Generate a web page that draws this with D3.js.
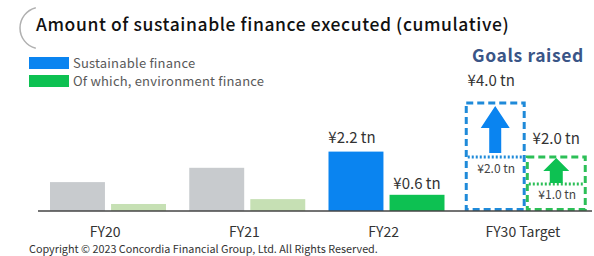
<!DOCTYPE html>
<html>
<head>
<meta charset="utf-8">
<script src="https://cdn.jsdelivr.net/npm/d3@7"></script>
<style>
  body { margin: 0; background: #fff; }
  text { font-family: "Noto Sans CJK JP", "Noto Sans", sans-serif; }
</style>
</head>
<body>
<div id="chart"></div>
<script>
// data
const categories = ["FY20", "FY21", "FY22", "FY30 Target"];
const sustainable = [1.07, 1.6, 2.2, 4.0];
const environment = [0.26, 0.44, 0.6, 2.0];
const previousGoals = [2.0, 1.0]; // FY30 goals before raising (sustainable, environment)
const seriesNames = ["Sustainable finance", "Of which, environment finance"];

const width = 594, height = 256;
const baseY = 211;

const svg = d3.select("#chart")
    .append("svg")
    .attr("width", width)
    .attr("height", height);

// title with the little arc
svg.append("path")
    .attr("d", () => {
        const p = d3.path();
        p.arc(41, 28, 21, -Math.PI / 2 - 0.25, Math.PI / 2 + 0.25, true);
        return p.toString();
    })
    .attr("fill", "none")
    .attr("stroke", "#b0b0b0")
    .attr("stroke-width", 1.5);
svg.append("text")
    .attr("x", 36).attr("y", 31)
    .attr("font-size", 17.5).attr("font-weight", 500)
    .attr("letter-spacing", 0.6)
    .attr("fill", "#111")
    .text("Amount of sustainable finance executed (cumulative)");

// scales
const x = d3.scaleBand().domain(categories).range([38.5, 595.5]);
const sub = d3.scaleBand().domain([0, 1]).range([11.5, 127.5]).paddingInner(0.1);
const y = d3.scaleLinear().domain([0, 4]).range([baseY, 103]);

const colBlue = "#0a84f0", colGreen = "#0dc152";
const colGray = "#c8cbce", colLightGreen = "#c6e0b4";
const boxBlue = "#1f8ad9", boxGreen = "#2cbf57";

// legend
const legend = svg.append("g");
[colBlue, colGreen].forEach((c, i) => {
    legend.append("rect").attr("x", 29).attr("y", 57 + i * 18).attr("width", 40).attr("height", 12).attr("fill", c);
    legend.append("text").attr("x", 73).attr("y", 68 + i * 17.5)
        .attr("font-size", 13).attr("letter-spacing", 0.2).attr("fill", "#595959").text(seriesNames[i]);
});

// "Goals raised"
svg.append("text")
    .attr("x", 528).attr("y", 62)
    .attr("text-anchor", "middle")
    .attr("font-size", 17.5).attr("font-weight", 700)
    .attr("letter-spacing", 0.6)
    .attr("fill", "#3a5587")
    .text("Goals raised");

// actual bars (FY20 - FY22)
const actual = categories.slice(0, 3).map((c, i) => ({c, i}));
actual.forEach(d => {
    const past = d.i < 2;
    svg.append("rect")
        .attr("x", x(d.c) + sub(0)).attr("width", sub.bandwidth())
        .attr("y", y(sustainable[d.i])).attr("height", baseY - y(sustainable[d.i]))
        .attr("fill", past ? colGray : colBlue);
    svg.append("rect")
        .attr("x", x(d.c) + sub(1)).attr("width", sub.bandwidth())
        .attr("y", y(environment[d.i])).attr("height", baseY - y(environment[d.i]))
        .attr("fill", past ? colLightGreen : colGreen);
});

// FY22 value labels
const fy = categories[2];
svg.append("text").attr("x", x(fy) + sub(0) + sub.bandwidth() / 2 - 4).attr("y", y(sustainable[2]) - 9)
    .attr("text-anchor", "middle").attr("font-size", 15).attr("fill", "#333").text(`¥${sustainable[2].toFixed(1)} tn`);
svg.append("text").attr("x", x(fy) + sub(1) + sub.bandwidth() / 2).attr("y", y(environment[2]) - 6)
    .attr("text-anchor", "middle").attr("font-size", 15).attr("fill", "#333").text(`¥${environment[2].toFixed(1)} tn`);

// FY30 target boxes
const t = categories[3];
const targets = [
    {v: sustainable[3], prev: previousGoals[0], col: boxBlue, arrow: colBlue, xi: 0,
        head: 22, hw: 14.5, sw: 6, top: 3, bot: 4, lab: -17, dx: -4, plab: 16},
    {v: environment[3], prev: previousGoals[1], col: boxGreen, arrow: colGreen, xi: 1,
        head: 13, hw: 13, sw: 6.5, top: 1, bot: 1, lab: -13, dx: 0, plab: 15}
];
targets.forEach(d => {
    const x0 = x(t) + sub(d.xi) - 1.5, w = sub.bandwidth() + 3;
    const cx = x0 + w / 2;
    svg.append("rect")
        .attr("x", x0).attr("y", y(d.v)).attr("width", w).attr("height", baseY - y(d.v) - 1.5)
        .attr("fill", "none").attr("stroke", d.col).attr("stroke-width", 3)
        .attr("stroke-dasharray", "7,4");
    svg.append("line")
        .attr("x1", x0 + 1.5).attr("x2", x0 + w - 1.5)
        .attr("y1", y(d.prev)).attr("y2", y(d.prev))
        .attr("stroke", d.col).attr("stroke-width", 3).attr("stroke-dasharray", "2,2");
    // arrow
    const top = y(d.v) + d.top, bot = y(d.prev) - d.bot;
    svg.append("path")
        .attr("d", `M${cx},${top} L${cx + d.hw},${top + d.head} L${cx + d.sw},${top + d.head} L${cx + d.sw},${bot}
            L${cx - d.sw},${bot} L${cx - d.sw},${top + d.head} L${cx - d.hw},${top + d.head} Z`)
        .attr("fill", d.arrow);
    // target label
    svg.append("text").attr("x", cx + d.dx).attr("y", y(d.v) + d.lab)
        .attr("text-anchor", "middle").attr("font-size", 15).attr("fill", "#333")
        .text(`¥${d.v.toFixed(1)} tn`);
    // previous goal label
    svg.append("text").attr("x", cx + 1).attr("y", y(d.prev) + d.plab)
        .attr("text-anchor", "middle").attr("font-size", 12).attr("fill", "#444")
        .text(`¥${d.prev.toFixed(1)} tn`);
});

// baseline
svg.append("line")
    .attr("x1", 38).attr("x2", 592).attr("y1", baseY).attr("y2", baseY)
    .attr("stroke", "#444").attr("stroke-width", 1.5);

// category labels
svg.append("g")
    .selectAll("text")
    .data(categories)
    .join("text")
    .attr("x", d => x(d) + x.bandwidth() / 2 - 3)
    .attr("y", 237)
    .attr("text-anchor", "middle")
    .attr("font-size", 14)
    .attr("fill", "#333")
    .text(d => d);

// copyright
svg.append("text")
    .attr("x", 29).attr("y", 252.5)
    .attr("font-size", 10.8).attr("fill", "#333")
    .text("Copyright © 2023 Concordia Financial Group, Ltd. All Rights Reserved.");
</script>
</body>
</html>
